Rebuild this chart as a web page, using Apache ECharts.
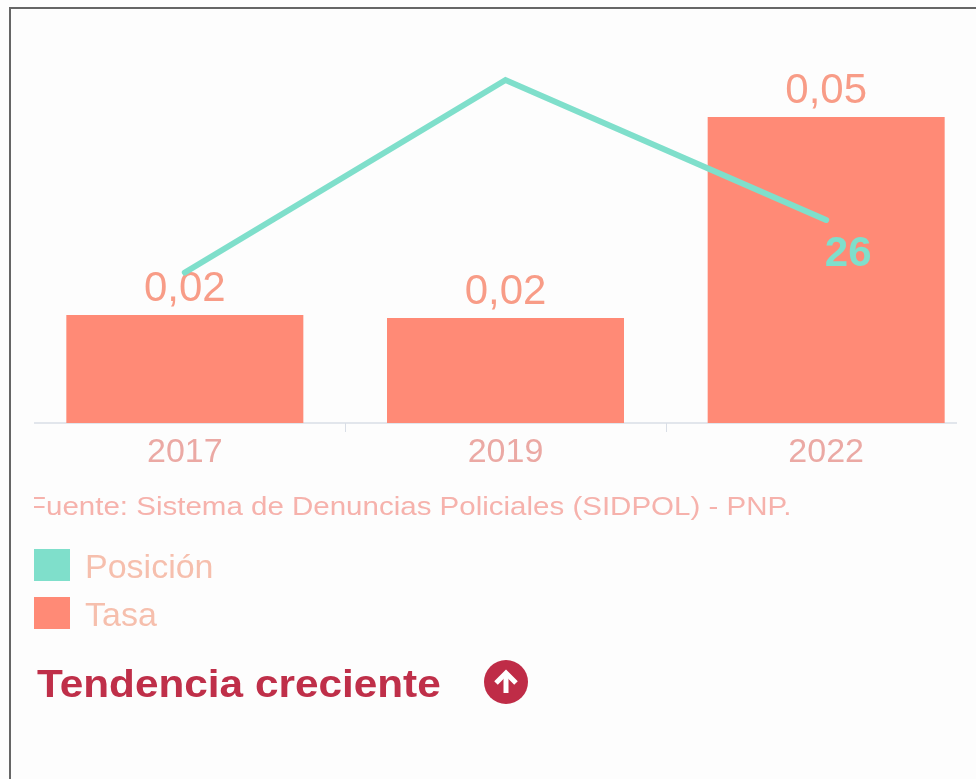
<!DOCTYPE html>
<html><head><meta charset="utf-8">
<script src="https://cdn.jsdelivr.net/npm/echarts@6/dist/echarts.min.js"></script>
<style>
html,body{margin:0;padding:0;width:976px;height:779px;background:#fdfdfd;overflow:hidden}
#frame{position:absolute;left:9px;top:7px;width:1000px;height:800px;border:2px solid #666;box-sizing:border-box}
#c{position:absolute;left:34px;top:0;width:923px;height:779px}
</style></head><body>
<div id="frame"></div><div id="c"></div>
<script>
const categories = ['2017','2019','2022'];
const tasa = [0.01765,0.01716,0.05];
const posicion = [23,34,26];
const sourceText = 'Fuente: Sistema de Denuncias Policiales (SIDPOL) - PNP.';
const trendText = 'Tendencia creciente';
const font = '"Liberation Sans", Arial, sans-serif';
const teal = '#7FDFCB', salmon = '#FF8A76';
const chart = echarts.init(document.getElementById('c'), null, {renderer:'canvas'});
chart.setOption({
  animation:false,
  backgroundColor:'transparent',
  legend:{orient:'vertical',left:0,top:549,padding:0,itemWidth:36,itemHeight:32,itemGap:11,selectedMode:false,
    data:[{name:'Posición',icon:'rect',itemStyle:{color:teal}},{name:'Tasa',icon:'rect',itemStyle:{color:salmon}}],
    formatter:n=>'{a|'+n+'}',
    textStyle:{rich:{a:{fontFamily:font,fontSize:34,color:'#F6BFAD',padding:[8,0,0,10]}}},itemStyle:{borderWidth:0}},
  grid:{left:-9.5,top:73,width:962,height:350,outerBoundsMode:'none'},
  xAxis:{type:'category',data:categories,
    axisLine:{lineStyle:{color:'#D9DEE6',width:1.5}},
    axisTick:{show:true,length:9,lineStyle:{color:'#D9DEE6'}},
    axisLabel:{fontFamily:font,fontSize:34,color:'#EBA9A4',margin:13}},
  yAxis:[
    {type:'value',min:0,max:0.0572,show:false},
    {type:'value',min:14.4,max:34.4,show:false}
  ],
  series:[
    {name:'Tasa',type:'bar',data:tasa,barWidth:237,itemStyle:{color:salmon},
      label:{show:true,position:'top',distance:5,fontFamily:font,fontSize:42,color:'#F89C87',
        formatter:p=>p.value.toFixed(2).replace('.',',')}},
    {name:'Posición',type:'line',yAxisIndex:1,
      data:[{value:posicion[0],label:{show:false}},{value:posicion[1],label:{show:false}},{value:posicion[2],
        label:{show:true,position:'bottom',distance:13,offset:[22,0],fontFamily:font,fontSize:42,fontWeight:'bold',color:teal}}],
      showSymbol:true,symbol:'circle',symbolSize:1,z:5,
      lineStyle:{color:teal,width:6,cap:'round',join:'miter'},itemStyle:{color:teal}}
  ],
  graphic:[
    {type:'text',x:-6,y:508,scaleX:1.18,style:{text:sourceText,fontFamily:font,fontSize:25,fill:'#F6B2AC',verticalAlign:'middle'}},
    {type:'text',x:3,y:686,scaleX:1.085,style:{text:trendText,fontFamily:font,fontSize:39,fontWeight:'bold',fill:'#BF2F49',verticalAlign:'middle'}},
    {type:'group',x:450,y:660,children:[
      {type:'circle',shape:{cx:22,cy:22,r:22},style:{fill:'#BF2C47'}},
      {type:'polyline',shape:{points:[[12,23],[22,13],[32,23]]},style:{stroke:'#fff',lineWidth:5,fill:null}},
      {type:'line',shape:{x1:22,y1:14,x2:22,y2:33},style:{stroke:'#fff',lineWidth:5}}
    ]}
  ]
});
</script></body></html>
